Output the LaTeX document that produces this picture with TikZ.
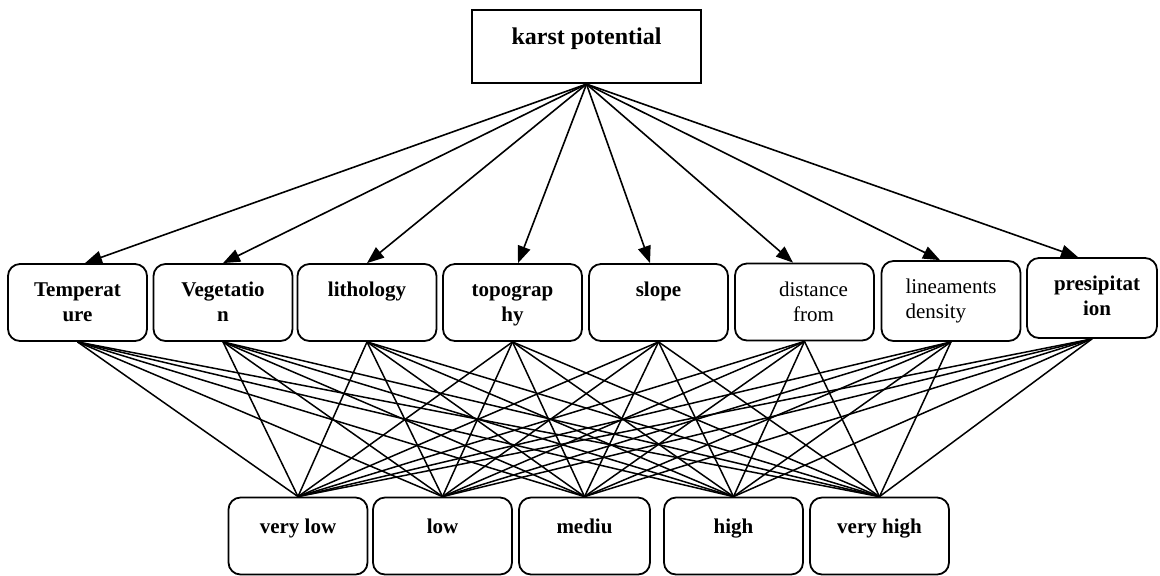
\documentclass[tikz,border=0pt]{standalone}
\usepackage{fontspec}
\setmainfont{Liberation Serif}
\usetikzlibrary{arrows.meta}

\begin{document}
\begin{tikzpicture}[x=0.5pt,y=-0.5pt,
        box/.style={draw, line width=0.9pt, rounded corners=6pt, minimum width=69.5pt, minimum height=38.5pt, inner sep=0pt},
        goal/.style={draw, line width=1.1pt, minimum width=114.5pt, minimum height=36.5pt, inner sep=0pt},
        txt/.style={anchor=north, inner sep=0pt, yshift=-7.75pt, align=center, font=\fontsize{10.5}{12.5}\selectfont\bfseries},
        thin/.style={txt, font=\fontsize{10.5}{12.5}\selectfont},
        arr/.style={line width=0.8pt, -{Triangle[length=8.5pt,width=6.5pt]}},
        link/.style={line width=0.75pt}]
        \useasboundingbox (0,0) rectangle (1160,575);
        % goal
        \node[goal, label={[txt, font=\fontsize{12}{14.4}\selectfont\bfseries]north:{\strut karst potential}}] (K) at (586.5,46.5) {};
        % criteria
        \node[box, label={[txt]north:{\strut Temperat\\ure}}]      (T)  at (77.5,302.5)  {};
        \node[box, label={[txt]north:{\strut Vegetatio\\n}}]       (V)  at (223,302.5)   {};
        \node[box, label={[txt]north:{\strut lithology}}]          (Li) at (367,302.5)   {};
        \node[box, label={[txt]north:{\strut topograp\\hy}}]       (To) at (512.5,302.5) {};
        \node[box, label={[txt]north:{\strut slope}}]              (S)  at (658.5,302.5) {};
        \node[box, label={[thin, xshift=4.5pt]north:{\strut distance\\from}}] (D) at (804.5,302) {};
        \node[box, minimum height=40pt, label={[thin, align=left]north:{\strut lineaments\\density}}] (Ln) at (951,301) {};
        \node[box, minimum width=65pt, minimum height=40pt, label={[txt, xshift=2.5pt]north:{\strut presipitat\\ion}}] (P) at (1092,298) {};
        % classes
        \node[box, label={[txt, yshift=-1.5pt]north:{\strut very low}}]  (VL) at (298,536)   {};
        \node[box, label={[txt, yshift=-1.5pt]north:{\strut low}}]       (L)  at (442.5,536) {};
        \node[box, minimum width=65.5pt, label={[txt, yshift=-1.5pt]north:{\strut mediu}}] (M) at (584.5,536) {};
        \node[box, label={[txt, yshift=-1.5pt]north:{\strut high}}]      (H)  at (733.5,536) {};
        \node[box, label={[txt, yshift=-1.5pt]north:{\strut very high}}] (VH) at (879.5,536) {};
        \path[arr]
            (K.south)
                edge ([xshift=3.75pt]T.north)
                edge (V.north)
                edge (Li.north)
                edge ([xshift=2.75pt]To.north)
                edge ([xshift=-4.25pt]S.north)
                edge ([xshift=-5.75pt]D.north)
                edge ([xshift=-5.5pt]Ln.north)
                edge ([xshift=-7pt]P.north)
            ;
        \path[link]
            (T.south)  edge (VL.north) edge (L.north) edge (M.north) edge (H.north) edge (VH.north)
            (V.south)  edge (VL.north) edge (L.north) edge (M.north) edge (H.north) edge (VH.north)
            (Li.south) edge (VL.north) edge (L.north) edge (M.north) edge (H.north) edge (VH.north)
            (To.south) edge (VL.north) edge (L.north) edge (M.north) edge (H.north) edge (VH.north)
            (S.south)  edge (VL.north) edge (L.north) edge (M.north) edge (H.north) edge (VH.north)
            (D.south)  edge (VL.north) edge (L.north) edge (M.north) edge (H.north) edge (VH.north)
            (Ln.south) edge (VL.north) edge (L.north) edge (M.north) edge (H.north) edge (VH.north)
            (P.south)  edge (VL.north) edge (L.north) edge (M.north) edge (H.north) edge (VH.north)
            ;
\end{tikzpicture}
\end{document}
